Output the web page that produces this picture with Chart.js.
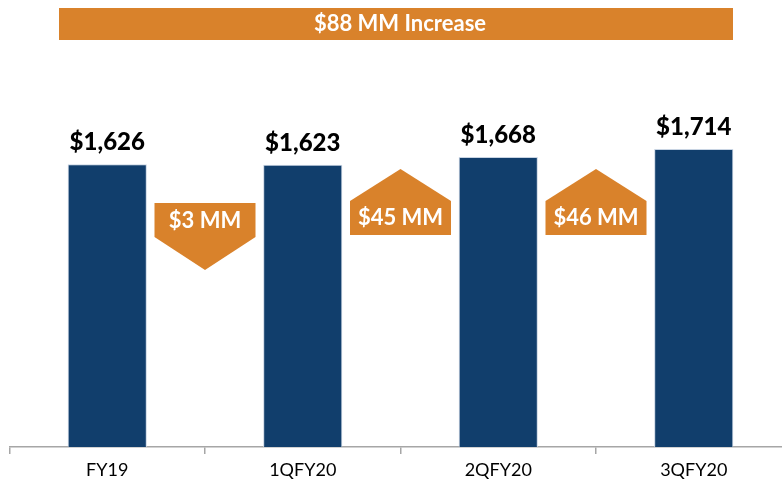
<!DOCTYPE html>
<html>
<head>
<meta charset="utf-8">
<script src="https://cdn.jsdelivr.net/npm/chart.js@4.4.0/dist/chart.umd.min.js"></script>
<style>
  html, body { margin: 0; padding: 0; background: #fff; overflow: hidden; }
  #wrap { width: 782px; height: 486px; overflow: hidden; }
</style>
</head>
<body>
<div id="wrap"><canvas id="myChart" width="800" height="486" style="width:800px;height:486px"></canvas></div>
<script>
// values in $MM
var categories = ['FY19', '1QFY20', '2QFY20', '3QFY20'];
var values = [1626, 1623, 1668, 1714];
var bannerSuffix = ' MM Increase';

var navy = '#113e6c';
var orange = '#d9822b';
var font = 'Lato, "Open Sans", sans-serif';

function money(v) {
  return '$' + v.toLocaleString('en-US');
}

// "$1,626" on top of each bar
var barLabels = {
  id: 'barLabels',
  afterDatasetsDraw: function(chart) {
    var ctx = chart.ctx;
    var meta = chart.getDatasetMeta(0);
    ctx.save();
    ctx.fillStyle = '#000';
    ctx.font = '900 24px ' + font;
    ctx.textAlign = 'center';
    ctx.textBaseline = 'alphabetic';
    meta.data.forEach(function(bar, i) {
      ctx.fillText(money(values[i]), bar.x, bar.y - 14);
    });
    ctx.restore();
  }
};

// arrows with the change between two bars, plus the banner on top
var changeArrows = {
  id: 'changeArrows',
  afterDatasetsDraw: function(chart) {
    var ctx = chart.ctx;
    var meta = chart.getDatasetMeta(0);
    var w = 101;
    ctx.save();
    for (var i = 0; i < values.length - 1; i++) {
      var diff = values[i + 1] - values[i];
      var cx = (meta.data[i].x + meta.data[i + 1].x) / 2;
      var l = cx - w / 2, r = cx + w / 2;
      ctx.fillStyle = orange;
      ctx.beginPath();
      var ty;
      if (diff < 0) {
        ctx.moveTo(l, 203);
        ctx.lineTo(r, 203);
        ctx.lineTo(r, 237);
        ctx.lineTo(cx, 270);
        ctx.lineTo(l, 237);
        ty = 221;
      } else {
        ctx.moveTo(cx, 169);
        ctx.lineTo(r, 201);
        ctx.lineTo(r, 235);
        ctx.lineTo(l, 235);
        ctx.lineTo(l, 201);
        ty = 218;
      }
      ctx.closePath();
      ctx.fill();
      ctx.fillStyle = '#fff';
      ctx.font = 'bold 22px ' + font;
      ctx.textAlign = 'center';
      ctx.textBaseline = 'middle';
      ctx.fillText('$' + Math.abs(diff) + ' MM', cx, ty);
    }

    // banner
    var total = values[values.length - 1] - values[0];
    ctx.fillStyle = orange;
    ctx.fillRect(59, 8, 674, 32);
    ctx.fillStyle = '#fff';
    ctx.font = 'bold 22px ' + font;
    ctx.textAlign = 'center';
    ctx.textBaseline = 'middle';
    ctx.fillText('$' + total + bannerSuffix, 400, 24);
    ctx.restore();
  }
};

var data = {
  labels: categories,
  datasets: [{
    data: values,
    backgroundColor: navy,
    borderColor: '#c8d4e3',
    borderWidth: 1,
    barPercentage: 0.405,
    categoryPercentage: 1
  }]
};

var config = {
  type: 'bar',
  data: data,
  options: {
    responsive: false,
    animation: false,
    layout: { padding: { top: 64.5, left: 9.5, right: 8.5, bottom: 0 } },
    plugins: {
      legend: { display: false },
      tooltip: { enabled: false }
    },
    scales: {
      y: {
        display: false,
        min: 0,
        max: 2200
      },
      x: {
        afterFit: function(scale) { scale.height = 39; },
        border: { color: '#a6a6a6', width: 1.5 },
        grid: {
          offset: true,
          drawOnChartArea: false,
          color: '#a6a6a6',
          lineWidth: 1.5,
          tickLength: 7
        },
        ticks: {
          color: '#000',
          padding: 5,
          font: { family: font, size: 18 }
        }
      }
    }
  },
  plugins: [barLabels, changeArrows]
};

var myChart = new Chart(document.getElementById('myChart'), config);
</script>
</body>
</html>
